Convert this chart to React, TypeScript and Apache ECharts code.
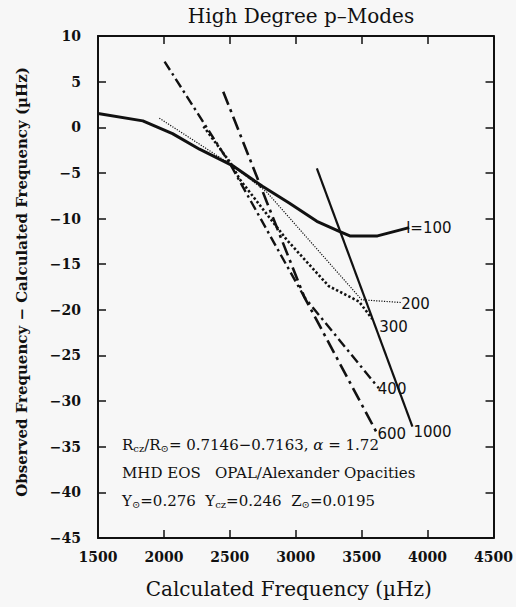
import React, { useEffect, useRef } from "react";
import * as echarts from "echarts";

// Axis ranges
const xMin = 1500, xMax = 4500, xStep = 500;
const yMin = -45, yMax = 10, yStep = 5;

// Series data [calculated frequency, observed - calculated]
const l100: number[][] = [[1500, 1.5], [1840, 0.7], [2065, -0.7], [2270, -2.4], [2520, -4.2], [2750, -6.5], [2950, -8.3], [3160, -10.3], [3330, -11.4], [3410, -11.9], [3620, -11.9], [3860, -11.0]];
const l200: number[][] = [[1965, 1.0], [2520, -4.2], [2780, -7.1], [3500, -18.9], [3800, -19.2]];
const l300: number[][] = [[2300, 0.1], [2510, -4.0], [2575, -5.7], [2930, -12.3], [3250, -17.4], [3480, -19.1], [3580, -21.0]];
const l400: number[][] = [[2005, 7.2], [2505, -4.1], [3065, -18.6], [3630, -28.6]];
const l600: number[][] = [[2450, 3.9], [3065, -18.6], [3612, -33.4]];
const l1000: number[][] = [[3160, -4.5], [3885, -32.8]];

const seriesNames = ["l=100", "200", "300", "400", "600", "1000"];

const SERIF = "DejaVu Serif";
const SANS = "DejaVu Sans";

export default function App() {
  const ref = useRef<HTMLDivElement>(null);
  useEffect(() => {
    if (!ref.current) return;
    const chart = echarts.init(ref.current, null, { renderer: "svg" });
    const endLbl = (text: string, offset: number[]) => ({
      show: true,
      formatter: text,
      distance: 1,
      offset,
      color: "#111",
      fontFamily: SANS,
      fontSize: 15,
    });
    const mk = (name: string, data: number[][], width: number, type: any, lblOffset: number[]) => ({
      name,
      type: "line",
      data,
      showSymbol: false,
      symbol: "none",
      silent: true,
      lineStyle: { color: "#111", width, type, cap: "butt" },
      endLabel: endLbl(name, lblOffset),
    });
    const axisCommon = {
      axisLine: { show: true, onZero: false, lineStyle: { color: "#111", width: 2 } },
      axisTick: { show: true, inside: true, length: 8, lineStyle: { color: "#111", width: 1.5 } },
      splitLine: { show: false },
    };
    const sub = { fontSize: 10, fontFamily: SERIF, verticalAlign: "bottom", padding: [8, 0, 0, 0], fill: "#111" };
    const base = { fontSize: 15, fontFamily: SERIF, fill: "#111" };
    chart.setOption({
      animation: false,
      backgroundColor: "#f7f7f7",
      title: {
        text: "High Degree p–Modes",
        left: 296,
        textAlign: "center",
        top: 1,
        textStyle: { fontFamily: SERIF, fontSize: 20, fontWeight: "normal", color: "#111" },
      },
      grid: { left: 98, right: 22, top: 36, bottom: 69 },
      xAxis: [
        {
          type: "value", min: xMin, max: xMax, interval: xStep, position: "bottom",
          ...axisCommon,
          axisLabel: { color: "#111", fontFamily: SERIF, fontWeight: "bold", fontSize: 14, margin: 12, formatter: (v: number) => String(v) },
          name: "Calculated Frequency (µHz)",
          nameLocation: "middle",
          nameGap: 41,
          nameTextStyle: { fontFamily: SERIF, fontSize: 20, color: "#111", verticalAlign: "top", padding: [0, 14, 0, 0] },
        },
        {
          type: "value", min: xMin, max: xMax, interval: xStep, position: "top",
          ...axisCommon, axisLabel: { show: false },
        },
      ],
      yAxis: [
        {
          type: "value", min: yMin, max: yMax, interval: yStep, position: "left",
          ...axisCommon,
          axisLabel: {
            color: "#111", fontFamily: SERIF, fontWeight: "bold", fontSize: 14, margin: 17,
            formatter: (v: number) => String(v).replace("-", "−"),
          },
          name: "Observed Frequency − Calculated Frequency (µHz)",
          nameLocation: "middle",
          nameGap: 69,
          nameTextStyle: { fontFamily: SERIF, fontSize: 15, fontWeight: "bold", color: "#111", padding: [0, 0, 0, 10] },
        },
        {
          type: "value", min: yMin, max: yMax, interval: yStep, position: "right",
          ...axisCommon, axisLabel: { show: false },
        },
      ],
      graphic: [
        {
          type: "text", left: 122, top: 437,
          style: {
            text: "R{s|cz}/R{s|⊙}= 0.7146−0.7163, {i|α} = 1.72",
            font: "15px DejaVu Serif", fill: "#111",
            rich: { s: sub, i: { ...base, fontStyle: "italic" } },
          },
        },
        {
          type: "text", left: 122, top: 465,
          style: { text: "MHD EOS   OPAL/Alexander Opacities", font: "15px DejaVu Serif", fill: "#111" },
        },
        {
          type: "text", left: 122, top: 493,
          style: {
            text: "Y{s|⊙}=0.276  Y{s|cz}=0.246  Z{s|⊙}=0.0195",
            font: "15px DejaVu Serif", fill: "#111",
            rich: { s: sub },
          },
        },
      ],
      series: [
        mk(seriesNames[0], l100, 3, "solid", [-4, 0]),
        mk(seriesNames[1], l200, 1.2, [1.2, 1.4], [-1, 1]),
        mk(seriesNames[2], l300, 2.6, [2.4, 2.2], [6, 8]),
        mk(seriesNames[3], l400, 2.4, [10, 4, 2.5, 4], [-2, 1]),
        mk(seriesNames[4], l600, 2.6, [14, 5, 3, 5], [0, 2]),
        mk(seriesNames[5], l1000, 2.2, "solid", [0, 5]),
      ],
    });
    return () => chart.dispose();
  }, []);
  return (
    <div
      ref={ref}
      style={{ position: "fixed", left: 0, top: 0, width: 516, height: 607 }}
    />
  );
}
